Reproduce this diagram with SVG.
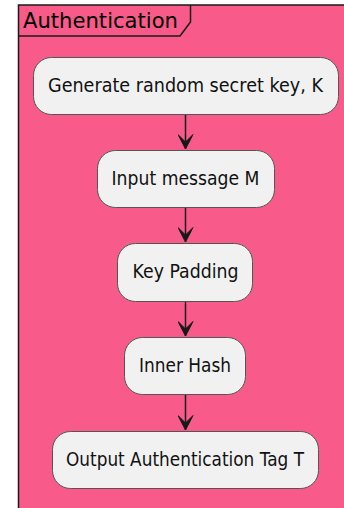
<svg xmlns="http://www.w3.org/2000/svg" width="344" height="508" viewBox="0 0 344 508">
<defs>
<style>
.frame{fill:#F85A89;stroke:#1a1a1a;stroke-width:1.5}
.tab{fill:none;stroke:#1a1a1a;stroke-width:1.5}
.box{fill:#F1F1F1;stroke:#555555;stroke-width:1}
.t{font-family:"DejaVu Sans","Liberation Sans",sans-serif;font-size:19px;fill:#111111;text-anchor:middle}
.title{font-family:"DejaVu Sans","Liberation Sans",sans-serif;font-size:21px;fill:#000000}
.edge{stroke:#181818;stroke-width:1.5;fill:none}
.head{fill:#181818;stroke:#181818;stroke-width:1}
</style>
<marker id="ah" viewBox="0 0 16 16" refX="15" refY="8" markerWidth="16" markerHeight="16" markerUnits="userSpaceOnUse" orient="auto">
<polygon class="head" points="0.5,0.5 15,8 0.5,15.5 8,8"/>
</marker>
</defs>
<rect width="344" height="508" fill="#ffffff"/>
<g id="frame">
<rect class="frame" x="18.5" y="5" width="340" height="520"/>
<path class="tab" d="M18.5,36 L180,36 L190.5,22 L190.5,5"/>
<text class="title" x="23" y="28" textLength="155" lengthAdjust="spacingAndGlyphs">Authentication</text>
</g>
<g id="connectors">
<line class="edge" x1="185.5" y1="115" x2="185.5" y2="149" marker-end="url(#ah)"/>
<line class="edge" x1="185.5" y1="208" x2="185.5" y2="242" marker-end="url(#ah)"/>
<line class="edge" x1="185.5" y1="302" x2="185.5" y2="336" marker-end="url(#ah)"/>
<line class="edge" x1="185.5" y1="395" x2="185.5" y2="430" marker-end="url(#ah)"/>
</g>
<g id="n1">
<rect class="box" x="33.5" y="57.5" width="305" height="57" rx="18" ry="18"/>
<text class="t" x="185.5" y="92" textLength="275" lengthAdjust="spacingAndGlyphs">Generate random secret key, K</text>
</g>
<g id="n2">
<rect class="box" x="97.5" y="150.5" width="177" height="57" rx="18" ry="18"/>
<text class="t" x="185.5" y="185" textLength="148" lengthAdjust="spacingAndGlyphs">Input message M</text>
</g>
<g id="n3">
<rect class="box" x="117.5" y="243.5" width="135" height="58" rx="18" ry="18"/>
<text class="t" x="185.5" y="278" textLength="106" lengthAdjust="spacingAndGlyphs">Key Padding</text>
</g>
<g id="n4">
<rect class="box" x="124.5" y="337.5" width="121" height="57" rx="18" ry="18"/>
<text class="t" x="185" y="372" textLength="92" lengthAdjust="spacingAndGlyphs">Inner Hash</text>
</g>
<g id="n5">
<rect class="box" x="52.5" y="431.5" width="266" height="57" rx="18" ry="18"/>
<text class="t" x="185" y="466" textLength="238" lengthAdjust="spacingAndGlyphs">Output Authentication Tag T</text>
</g>
</svg>
